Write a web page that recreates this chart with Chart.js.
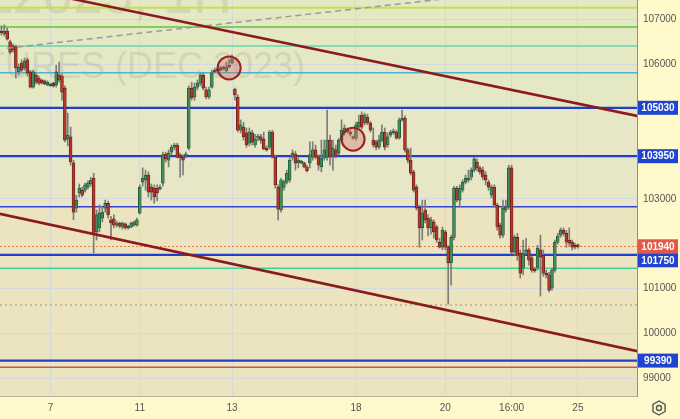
<!DOCTYPE html>
<html>
<head>
<meta charset="utf-8">
<script src="https://cdn.jsdelivr.net/npm/chart.js@4"></script>
<style>
  html, body { margin: 0; padding: 0; background: #fff9cc; }
  #wrap { width: 680px; height: 419px; position: relative; }
</style>
</head>
<body>
<div id="wrap"><canvas id="chart"></canvas></div>
<script>
// hourly candles [open, high, low, close]
const ohlc = [
  [106740,106860,106650,106700],[106680,106880,106630,106740],[106740,106810,106540,106560],[106500,106540,106230,106270],
  [106410,106450,106270,106320],[106390,106430,105690,105920],[105830,106010,105760,105940],[106030,106100,105830,105870],
  [105920,106140,105870,106070],[106100,106140,105740,105810],[105830,105870,105470,105490],[105490,105870,105470,105830],
  [105760,105810,105560,105600],[105690,105740,105540,105580],[105650,105670,105560,105580],[105630,105650,105540,105560],
  [105540,105630,105520,105600],[105520,105580,105510,105560],[105580,105600,105490,105520],[105540,105980,105490,105830],
  [105760,106050,105600,105650],[105740,105780,105200,105380],[105470,105520,104270,104310],[104330,104910,104180,104420],
  [104380,104600,103750,103820],[103800,103860,102530,102700],[102790,103080,102700,102970],[103130,103330,103040,103240],
  [103190,103260,103040,103080],[103190,103350,103150,103310],[103260,103400,103220,103350],[103330,103480,103280,103420],
  [103460,103570,101790,102230],[102260,102750,102080,102640],[102350,102860,102260,102680],[102570,102790,102480,102700],
  [102790,102970,102700,102900],[102900,102950,102570,102640],[102530,102610,102080,102460],[102550,102640,102350,102410],
  [102410,102500,102370,102460],[102460,102480,102350,102390],[102370,102480,102320,102460],[102440,102460,102320,102350],
  [102350,102410,102320,102390],[102370,102480,102350,102460],[102410,102500,102390,102480],[102410,102570,102390,102530],
  [102680,103310,102660,103260],[103370,103690,103280,103460],[103420,103640,103190,103530],[103530,103600,103040,103150],
  [103260,103330,102970,103150],[103240,103310,102900,103040],[103240,103310,102950,103130],[103220,103310,103190,103260],
  [103350,104040,103280,103980],[104000,104040,103820,103890],[103860,104090,103710,104020],[104040,104200,103980,104150],
  [104150,104240,104090,104200],[104200,104240,103910,103930],[103980,104020,103480,103910],[103930,103980,103530,103860],
  [103950,104040,103910,104000],[104130,105520,104090,105470],[105470,105600,105200,105250],[105270,105580,105200,105490],
  [105490,105650,105430,105580],[105580,105810,105520,105760],[105760,105810,105430,105470],[105430,105490,105230,105270],
  [105270,105490,105230,105430],[105490,105870,105470,105810],[105830,105920,105810,105870],[105900,105940,105830,105850],
  [105920,105960,105850,105870],[105900,105960,105870,105940],[105850,106050,105830,105940],[105980,106100,105920,105940],
  [106030,106210,106010,106120],[105450,105470,105200,105320],[105270,105320,104490,104530],[104530,104760,104470,104650],
  [104600,104710,104310,104380],[104470,104580,104150,104200],[104240,104580,104180,104490],[104470,104530,104200,104270],
  [104200,104440,104150,104330],[104350,104440,104290,104400],[104380,104440,104240,104310],[104330,104490,104090,104110],
  [104130,104180,104060,104090],[104150,104530,104110,104490],[104490,104530,103910,103930],[103930,103980,103240,103310],
  [103260,103310,102530,102770],[102750,103460,102700,103420],[103260,103420,103190,103370],[103370,103640,103330,103570],
  [103420,103910,103370,103860],[103930,104090,103860,104020],[104000,104060,103640,103800],[103800,103910,103690,103860],
  [103800,103860,103780,103840],[103800,103820,103690,103710],[103710,103750,103600,103620],[103800,104270,103690,103980],
  [103930,104270,103860,104090],[104090,104200,103890,103930],[103930,103980,103640,103750],[103710,104310,103600,103910],
  [103910,104310,103860,104090],[103930,104980,103860,104310],[104310,104420,103750,103930],[103950,104310,103640,104130],
  [104090,104200,103910,103950],[104020,104350,103980,104310],[104310,104760,104270,104530],[104470,104650,104420,104580],
  [104530,104580,104470,104490],[104490,104530,104400,104440],[104380,104400,104330,104350],[104350,104710,104310,104650],
  [104600,104870,104580,104710],[104870,104940,104560,104600],[104690,104910,104650,104870],[104820,104890,104650,104690],
  [104690,104730,104490,104530],[104310,104580,104150,104200],[104270,104310,104090,104150],[104150,104420,104110,104310],
  [104310,104650,104270,104490],[104490,104580,104090,104150],[104200,104470,104150,104380],[104420,104530,104380,104490],
  [104470,104560,104440,104510],[104490,104530,104330,104350],[104350,104800,104330,104760],[104760,104980,104730,104800],
  [104800,104850,104040,104090],[104090,104130,103800,103860],[103860,104130,103530,103570],[103600,103640,103150,103190],
  [103260,103310,102750,102790],[102810,102860,101920,102350],[102350,102970,102080,102680],[102750,102970,102460,102530],
  [102570,102640,102170,102350],[102350,102590,102210,102530],[102480,102530,102120,102260],[102370,102410,102030,102080],
  [102030,102120,101900,101920],[101920,102370,101860,102300],[102260,102300,101860,101920],[101920,101960,100650,101570],
  [101570,102190,101070,102140],[102140,103280,102080,103240],[103240,103280,102930,102970],[102970,103310,102820,103240],
  [103190,103420,103150,103370],[103370,103530,103330,103460],[103420,103640,103370,103460],[103480,103690,103420,103640],
  [103640,103930,103600,103890],[103820,103890,103620,103690],[103690,103730,103550,103600],[103640,103710,103420,103480],
  [103530,103600,103310,103420],[103370,103420,103190,103260],[103080,103310,103020,103260],[103260,103310,102820,102860],
  [102860,102900,102300,102370],[102410,102460,102120,102190],[102190,102970,102140,102790],[102750,102970,102700,102820],
  [102820,103750,102770,103690],[103690,103750,101770,101810],[101810,102190,101740,102140],[102140,102230,101630,101740],
  [101790,101860,101230,101340],[101450,102080,101300,101790],[101810,102120,101770,101860],[101860,101900,101520,101630],
  [101680,101720,101360,101410],[101430,101470,101360,101390],[101470,101960,101410,101900],[101860,102190,100830,101700],
  [101740,101860,101270,101340],[101340,101410,101230,101300],[101300,101360,100920,100960],[101010,101450,100960,101410],
  [101410,102080,101360,102030],[102030,102230,101990,102170],[102190,102350,102140,102300],[102300,102350,102170,102230],
  [102230,102300,101920,102030],[102080,102350,101960,102010],[102030,102080,101860,101920],[101960,102010,101880,101920],
  [101960,101990,101900,101940]
];

const slotCount = 221;              // hourly slots incl. empty right margin
const tickSlots = [17, 48, 80, 123, 154, 177, 200];
const tickText = ['7', '11', '13', '18', '20', '16:00', '25'];
const yTicks = [99000, 100000, 101000, 103000, 106000, 107000];
const yMin = 98600, yMax = 107435;

const blueLevels = [105030, 103950, 101750, 99390];
const lastPrice = 101940;
const thinLevels = [107260, 106830, 106410, 105810, 102820, 101450, 100630, 99240];
const zoneBreaks = [105030, 102820];

// sloped lines: [slot, price] pairs
const trendUpper = [[20, 107520], [222, 104830]];
const trendLower = [[-1, 102670], [222, 99580]];
const dashedLine = [[2, 106360], [155, 107470]];
const circleMarks = [[79, 105920], [122, 104330]];

const labels = Array.from({length: slotCount}, () => '');
tickSlots.forEach((s, i) => { labels[s] = tickText[i]; });

const thinStyles = [
  {color: '#c8dc55', width: 2},
  {color: '#5fc440', width: 1.5},
  {color: '#84dab4', width: 2},
  {color: '#4fb0d8', width: 1.5},
  {color: '#3543d0', width: 1.5},
  {color: '#3fd49c', width: 1.5},
  {color: '#a38f80', width: 1, dash: [2, 3]},
  {color: '#d0544c', width: 1.5}
];

const overlay = {
  id: 'overlay',
  beforeDraw(chart) {
    const {ctx, chartArea: a, scales: {y}} = chart;
    ctx.save();
    ctx.fillStyle = '#fff9cc';
    ctx.fillRect(0, 0, chart.width, chart.height);
    const y1 = y.getPixelForValue(zoneBreaks[0]);
    const y2 = y.getPixelForValue(zoneBreaks[1]);
    ctx.fillStyle = '#e4e9c3';
    ctx.fillRect(a.left, a.top, a.width, y1 - a.top);
    ctx.fillStyle = '#e7e6c7';
    ctx.fillRect(a.left, y1, a.width, y2 - y1);
    ctx.fillStyle = '#ece3bf';
    ctx.fillRect(a.left, y2, a.width, a.bottom - y2);
    ctx.restore();
  },
  beforeDatasetsDraw(chart) {
    const {ctx, chartArea: a, scales: {y}} = chart;
    ctx.save();
    ctx.beginPath();
    ctx.rect(a.left, a.top, a.width, a.height);
    ctx.clip();

    // watermark
    ctx.fillStyle = 'rgba(130,130,120,0.18)';
    ctx.textAlign = 'right';
    ctx.textBaseline = 'alphabetic';
    ctx.font = '54px "Liberation Sans", Arial, sans-serif';
    ctx.fillText('RIZ2023, 1H', 232, 13);
    ctx.font = '36px "Liberation Sans", Arial, sans-serif';
    ctx.fillText('RTS INDEX FUTURES (DEC 2023)', 305, 78);

    thinLevels.forEach((p, i) => {
      const st = thinStyles[i];
      const py = y.getPixelForValue(p);
      ctx.strokeStyle = st.color;
      ctx.lineWidth = st.width;
      ctx.setLineDash(st.dash || []);
      ctx.beginPath();
      ctx.moveTo(a.left, py);
      ctx.lineTo(a.right, py);
      ctx.stroke();
    });
    ctx.setLineDash([2, 2]);
    ctx.strokeStyle = '#e0795c';
    ctx.lineWidth = 1;
    let py = Math.round(y.getPixelForValue(lastPrice)) + 0.5;
    ctx.beginPath(); ctx.moveTo(a.left, py); ctx.lineTo(a.right, py); ctx.stroke();
    ctx.setLineDash([]);
    blueLevels.forEach(p => {
      const ly = y.getPixelForValue(p);
      ctx.strokeStyle = '#1e3fcf';
      ctx.lineWidth = 2.2;
      ctx.beginPath(); ctx.moveTo(a.left, ly); ctx.lineTo(a.right, ly); ctx.stroke();
    });
    ctx.restore();
  },
  afterDatasetsDraw(chart) {
    const {ctx, chartArea: a, scales: {x, y}} = chart;
    ctx.save();
    ctx.beginPath();
    ctx.rect(a.left, a.top, a.width, a.height);
    ctx.clip();

    const seg = (pts) => {
      ctx.beginPath();
      ctx.moveTo(x.getPixelForValue(pts[0][0]), y.getPixelForValue(pts[0][1]));
      ctx.lineTo(x.getPixelForValue(pts[1][0]), y.getPixelForValue(pts[1][1]));
      ctx.stroke();
    };
    ctx.strokeStyle = '#9a9a96';
    ctx.lineWidth = 1.5;
    ctx.setLineDash([6, 4]);
    seg(dashedLine);
    ctx.setLineDash([]);
    ctx.strokeStyle = '#8b1a1d';
    ctx.lineWidth = 2.5;
    seg(trendUpper);
    seg(trendLower);

    circleMarks.forEach(([s, p]) => {
      ctx.beginPath();
      ctx.arc(x.getPixelForValue(s), y.getPixelForValue(p), 11.5, 0, Math.PI * 2);
      ctx.fillStyle = 'rgba(205,110,100,0.35)';
      ctx.fill();
      ctx.strokeStyle = '#9c1f22';
      ctx.lineWidth = 2;
      ctx.stroke();
    });
    ctx.restore();
  },
  afterDraw(chart) {
    const {ctx, chartArea: a, scales: {y}} = chart;
    ctx.save();
    const boxes = blueLevels.map(p => ({p, bg: '#1f44d0'}));
    boxes.push({p: lastPrice, bg: '#e05a47'});
    boxes.forEach(b => { b.y = y.getPixelForValue(b.p) - 7; });
    boxes.sort((m, n) => m.y - n.y);
    let prev = -100;
    boxes.forEach(b => {
      if (b.y < prev) b.y = prev;
      prev = b.y + 14;
      ctx.fillStyle = b.bg;
      ctx.fillRect(a.right + 1, b.y, 40, 14);
      ctx.fillStyle = '#ffffff';
      ctx.font = 'bold 10px "Liberation Sans", Arial, sans-serif';
      ctx.textAlign = 'center';
      ctx.textBaseline = 'middle';
      ctx.fillText(String(b.p), a.right + 21, b.y + 7.5);
    });

    // settings glyph
    const gx = 659, gy = 408;
    ctx.strokeStyle = '#555';
    ctx.lineWidth = 1.4;
    ctx.beginPath();
    for (let k = 0; k < 6; k++) {
      const ang = Math.PI / 6 + k * Math.PI / 3;
      const px = gx + 7 * Math.cos(ang), pyy = gy + 7 * Math.sin(ang);
      if (k === 0) ctx.moveTo(px, pyy); else ctx.lineTo(px, pyy);
    }
    ctx.closePath();
    ctx.stroke();
    ctx.beginPath();
    ctx.arc(gx, gy, 2.5, 0, Math.PI * 2);
    ctx.stroke();
    ctx.restore();
  }
};

const upFill = '#3f8d5c', downFill = '#b3382b';
const upEdge = '#1d4a2f', downEdge = '#581a14';

new Chart(document.getElementById('chart'), {
  type: 'bar',
  data: {
    labels: labels,
    datasets: [
      {
        data: ohlc.map(r => [r[2], r[1]]),
        backgroundColor: '#7c7c78',
        barThickness: 1,
        grouped: false,
        order: 2
      },
      {
        data: ohlc.map(r => [r[0], r[3]]),
        backgroundColor: ohlc.map(r => r[3] >= r[0] ? upFill : downFill),
        borderColor: ohlc.map(r => r[3] >= r[0] ? upEdge : downEdge),
        borderWidth: 0.7,
        borderSkipped: false,
        barThickness: 2.9,
        minBarLength: 1.5,
        grouped: false,
        order: 1
      }
    ]
  },
  options: {
    responsive: true,
    maintainAspectRatio: false,
    animation: false,
    layout: { padding: 0 },
    plugins: { legend: { display: false }, tooltip: { enabled: false } },
    scales: {
      x: {
        type: 'category',
        offset: true,
        afterBuildTicks: s => { s.ticks = tickSlots.map(v => ({ value: v })); },
        afterFit: s => { s.height = 23; s.paddingLeft = 0; s.paddingRight = 0; },
        grid: { color: '#d5d8dc', offset: false, drawTicks: false },
        border: { color: 'rgba(150,150,140,0.7)' },
        ticks: {
          autoSkip: false,
          maxRotation: 0,
          padding: 6,
          color: '#555',
          font: { family: '"Liberation Sans", Arial, sans-serif', size: 10 }
        }
      },
      y: {
        position: 'right',
        min: yMin,
        max: yMax,
        afterBuildTicks: s => { s.ticks = yTicks.map(v => ({ value: v })); },
        afterFit: s => { s.width = 43; s.paddingTop = 0; s.paddingBottom = 0; },
        grid: { color: '#d5d8dc', drawTicks: false },
        border: { color: '#8e8e8a' },
        ticks: {
          padding: 6,
          color: '#555',
          callback: v => String(v),
          font: { family: '"Liberation Sans", Arial, sans-serif', size: 10 }
        }
      }
    }
  },
  plugins: [overlay]
});
</script>
</body>
</html>
